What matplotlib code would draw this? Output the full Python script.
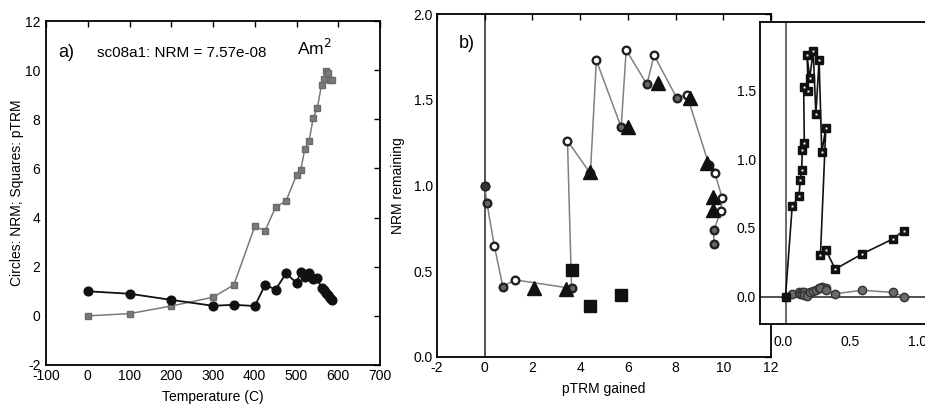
import matplotlib
matplotlib.use("Agg")
import matplotlib.pyplot as plt

plt.rcParams['font.family'] = ['Liberation Sans', 'DejaVu Sans']
plt.rcParams['axes.unicode_minus'] = False

# thermal steps (panel a) -- NRM remaining (circles) and pTRM gained (squares)
temps = [0, 100, 200, 300, 350, 400, 425, 450, 475, 500, 510, 520, 530, 540, 550,
         560, 565, 570, 575, 580, 585]
nrm = [1.0, 0.90, 0.65, 0.41, 0.45, 0.40, 1.26, 1.07, 1.73, 1.34, 1.79, 1.59, 1.76, 1.51, 1.53,
       1.12, 1.07, 0.93, 0.85, 0.74, 0.66]
ptrm = [0.0, 0.09, 0.40, 0.76, 1.26, 3.64, 3.47, 4.43, 4.68, 5.72, 5.93, 6.80, 7.10, 8.05, 8.47,
        9.40, 9.65, 9.95, 9.90, 9.60, 9.60]
# open (True) / filled (False) circles on the Arai plot
open_pt = [False, False, True, False, True, False, True, False, True, False, True, False, True,
           False, True, False, True, True, True, False, False]

# pTRM checks (triangles) and pTRM tail checks (squares)
check_x = [2.08, 3.41, 4.40, 6.00, 7.28, 8.60, 9.33, 9.55, 9.57]
check_y = [0.40, 0.395, 1.08, 1.34, 1.60, 1.51, 1.13, 0.935, 0.857]
tail_x = [3.66, 4.41, 5.71]
tail_y = [0.51, 0.30, 0.36]

# inset
ins_x = [0.02, 0.07, 0.12, 0.13, 0.14, 0.145, 0.16, 0.155, 0.19, 0.18, 0.20, 0.226, 0.246,
         0.27, 0.29, 0.32, 0.28, 0.32, 0.39, 0.59, 0.82, 0.90]
ins_sq = [0.0, 0.66, 0.73, 0.85, 0.92, 1.07, 1.12, 1.53, 1.50, 1.76, 1.59, 1.79, 1.33,
          1.72, 1.05, 1.23, 0.30, 0.34, 0.20, 0.31, 0.42, 0.48]
ins_ci = [0.0, 0.02, 0.03, 0.02, 0.035, 0.02, 0.03, 0.01, 0.02, 0.005, 0.03, 0.04, 0.05,
          0.06, 0.07, 0.065, 0.06, 0.05, 0.02, 0.046, 0.03, 0.0]

W, H = 925, 407
fig = plt.figure(figsize=(W / 100, H / 100), dpi=100)


def px_axes(x0, y0, x1, y1):
    return fig.add_axes([x0 / W, 1 - y1 / H, (x1 - x0) / W, (y1 - y0) / H])


def style(ax):
    ax.tick_params(direction='in', top=True, right=True, length=4, width=1,
                   labelsize=10, pad=3)
    ax.tick_params(axis='x', which='both', bottom=False)
    ax.tick_params(axis='y', which='both', left=False)
    for s in ax.spines.values():
        s.set_linewidth(1.3)


# ---- panel a
ax1 = px_axes(46, 21, 380, 365)
ax1.plot(temps, ptrm, '-s', color='#7a7a7a', lw=1.1, ms=4.5, mec='#6a6a6a')
ax1.plot(temps, nrm, '-o', color='#111111', lw=1.3, ms=6.3)
ax1.set_xlim(-100, 700)
ax1.set_ylim(-2, 12)
ax1.set_xticks(range(-100, 701, 100))
ax1.set_yticks(range(-2, 13, 2))
style(ax1)
ax1.tick_params(axis='y', pad=4)
ax1.set_xlabel('Temperature (C)', fontsize=10, labelpad=5)
ax1.set_ylabel('Circles: NRM; Squares: pTRM', fontsize=10, labelpad=1)
ax1.text(-71, 10.55, 'a)', fontsize=13, va='baseline')
ax1.text(22, 10.55, 'sc08a1: NRM = 7.57e-08', fontsize=11, va='baseline')
ax1.text(501, 10.62, 'Am$^2$', fontsize=12.5, va='baseline')

# ---- panel b
ax2 = px_axes(437, 14, 771, 357)
ax2.axvline(0, color='#444444', lw=1.3, zorder=1)
ax2.plot(ptrm, nrm, '-', color='#808080', lw=1.1, zorder=2)
for xv, yv, op in zip(ptrm, nrm, open_pt):
    ax2.plot(xv, yv, 'o', ms=5.5, mfc='white' if op else '#666666', mec='#222222',
             mew=1.7, zorder=3)
ax2.plot(ptrm[0], nrm[0], 'o', ms=6, mfc='#333333', mec='#222222', zorder=3)
ax2.plot(check_x, check_y, '^', ls='none', ms=10, color='#111111', zorder=4)
ax2.plot(tail_x, tail_y, 's', ls='none', ms=8, color='#111111', zorder=4)
ax2.set_xlim(-2, 12)
ax2.set_ylim(0, 2)
ax2.set_xticks(range(-2, 13, 2))
ax2.set_yticks([0, 0.5, 1.0, 1.5, 2.0])
ax2.set_yticklabels(['0.0', '0.5', '1.0', '1.5', '2.0'])
style(ax2)
ax2.set_xlabel('pTRM gained', fontsize=10, labelpad=5)
ax2.set_ylabel('NRM remaining', fontsize=10, labelpad=6)
ax2.text(-1.1, 1.8, 'b)', fontsize=13)

# ---- inset
ax3 = px_axes(760, 22, 944, 324)
ax3.set_facecolor('white')
ax3.axhline(0, color='#222222', lw=1.1, zorder=1)
ax3.axvline(0.02, color='#444444', lw=1.1, zorder=1)
ax3.plot(ins_x, ins_ci, '-o', color='#808080', lw=1.1, ms=6, mfc='#6a6a6a', mec='#333333',
         zorder=2)
ax3.plot(ins_x, ins_sq, '-s', color='#111111', lw=1.2, ms=5.5, zorder=3)
ax3.plot(ins_x[1:], ins_sq[1:], 's', ls='none', ms=1.4, mew=0, color='white', zorder=4)
ax3.set_xlim(-0.17, 1.2)
ax3.set_ylim(-0.2, 2.0)
ax3.set_xticks([0, 0.5, 1.0])
ax3.set_xticklabels(['0.0', '0.5', '1.0'])
ax3.set_yticks([0, 0.5, 1.0, 1.5])
ax3.set_yticklabels(['0.0', '0.5', '1.0', '1.5'])
style(ax3)
ax3.tick_params(top=False, right=False)
ax3.tick_params(axis='x', pad=8)

fig.savefig('out.png', dpi=100)
